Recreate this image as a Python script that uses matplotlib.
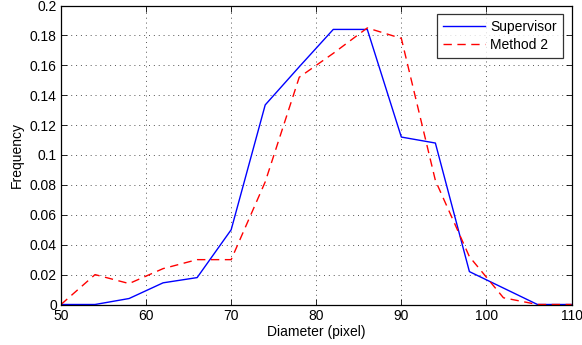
import matplotlib
matplotlib.use("Agg")
import matplotlib.pyplot as plt

diameter = [50, 54, 58, 62, 66, 70, 74, 78, 82, 86, 90, 94, 98, 102, 106, 110]
supervisor = [0, 0, 0.004, 0.0145, 0.018, 0.05, 0.1335, 0.159, 0.184, 0.184, 0.112, 0.108, 0.022, 0.011, 0, 0]
method2 = [0, 0.020, 0.014, 0.024, 0.030, 0.030, 0.082, 0.152, 0.168, 0.185, 0.178, 0.083, 0.032, 0.0045, 0, 0]
xticks = [50, 60, 70, 80, 90, 100, 110]
yticks = [0, 0.02, 0.04, 0.06, 0.08, 0.1, 0.12, 0.14, 0.16, 0.18, 0.2]
ytick_labels = ["0", "0.02", "0.04", "0.06", "0.08", "0.1", "0.12", "0.14", "0.16", "0.18", "0.2"]

plt.rcParams['font.family'] = ['Liberation Sans', 'DejaVu Sans']
fig = plt.figure(figsize=(5.82, 3.45), dpi=100)
ax = fig.add_axes([61/582, 1 - 304.5/345, (571.5-61)/582, (304.5-5.5)/345])

ax.plot(diameter, supervisor, color='#0000ff', lw=1.0, label='Supervisor')
ax.plot(diameter, method2, color='#ff0000', lw=1.0, ls=(0, (6, 4)), label='Method 2')

ax.set_xlim(50, 110)
ax.set_ylim(0, 0.2)
ax.set_xticks(xticks)
ax.set_xticklabels([str(x) for x in xticks])
ax.set_yticks(yticks)
ax.set_yticklabels(ytick_labels)
ax.tick_params(direction='in', top=True, right=True, labelsize=10, length=4, width=0.6, pad=3)
ax.grid(True, ls=(0, (1, 4)), color='#555555', lw=0.7)
for s in ax.spines.values():
    s.set_linewidth(0.9)
ax.set_xlabel('Diameter (pixel)', fontsize=10, labelpad=2)
ax.set_ylabel('Frequency', fontsize=10, labelpad=4)

leg = ax.legend(loc='upper right', fontsize=10, frameon=True, fancybox=False,
                edgecolor='black', handlelength=3.0, borderpad=0.45, labelspacing=0.3,
                handletextpad=0.4, borderaxespad=0.6)
leg.get_frame().set_linewidth(0.9)

fig.savefig('out.png', dpi=100)
